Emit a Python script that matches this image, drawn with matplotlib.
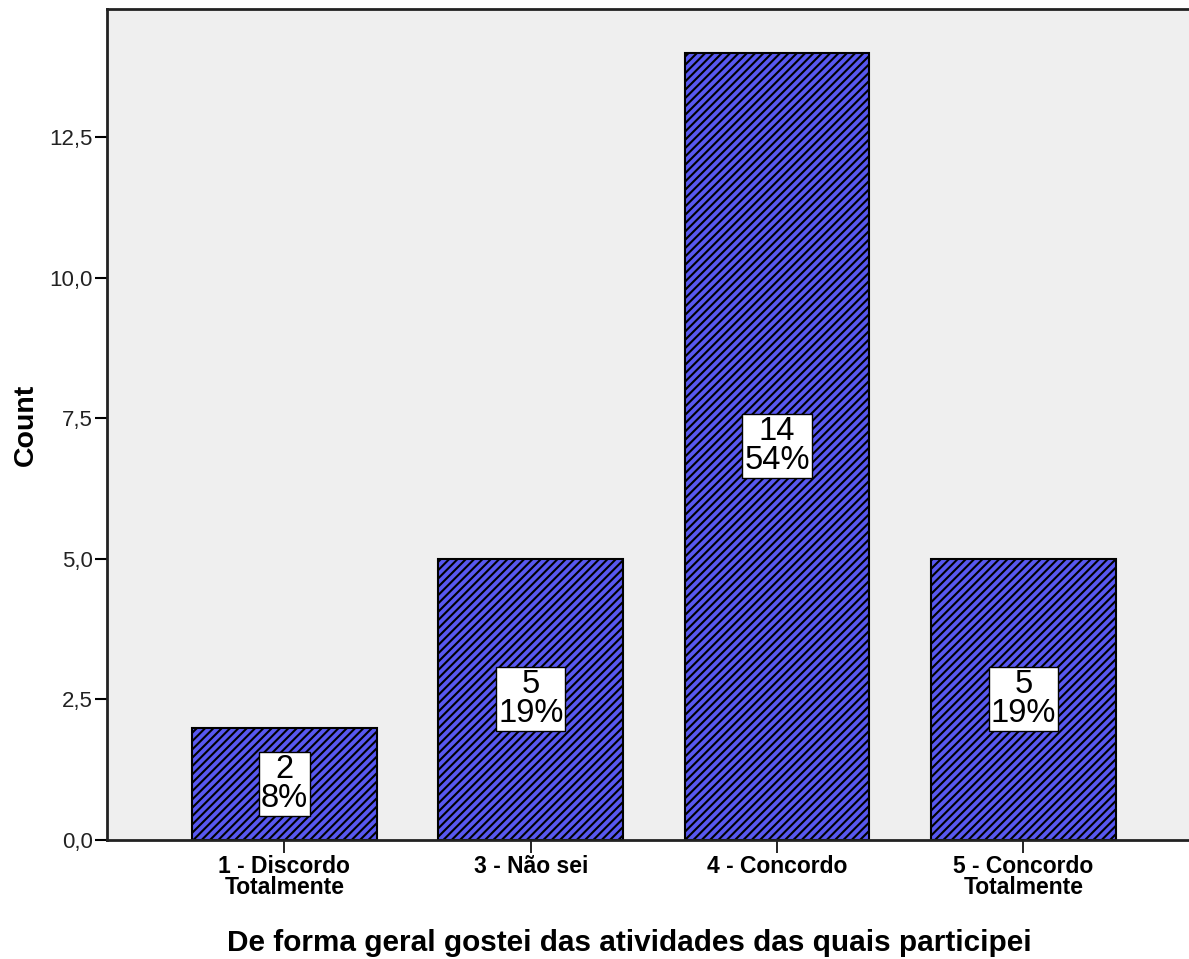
import matplotlib
matplotlib.use('Agg')
import matplotlib.pyplot as plt
from matplotlib.ticker import FuncFormatter

categories = ['1 - Discordo\nTotalmente', '3 - Não sei', '4 - Concordo', '5 - Concordo\nTotalmente']
counts = [2, 5, 14, 5]
percents = [8, 19, 54, 19]
yticks = [0, 2.5, 5.0, 7.5, 10.0, 12.5]

plt.rcParams['font.family'] = ['Liberation Sans', 'DejaVu Sans']
plt.rcParams['hatch.linewidth'] = 1.5

fig = plt.figure(figsize=(11.89, 9.59), dpi=100)
ax = fig.add_axes([0.090, 0.1241, 0.910, 0.8665])
ax.set_facecolor('#efefef')

x = list(range(len(categories)))
ax.bar(x, counts, width=0.75, color='#5858f0', edgecolor='black',
       linewidth=1.5, hatch='////', zorder=2)

for xi, c, p in zip(x, counts, percents):
    ax.text(xi, c / 2, '%d\n%d%%' % (c, p), ha='center', va='center',
            fontsize=23.5, linespacing=0.92, zorder=3,
            bbox=dict(boxstyle='square,pad=0.06', facecolor='white',
                      edgecolor='black', linewidth=1.0))

ax.set_xlim(-0.72, 3.672)
ax.set_ylim(0, 14.78)
ax.set_xticks(x)
ax.set_xticklabels(categories, fontweight='bold', fontsize=16.5, linespacing=0.85)
ax.set_yticks(yticks)
ax.yaxis.set_major_formatter(FuncFormatter(lambda v, pos: ('%.1f' % v).replace('.', ',')))
ax.tick_params(axis='y', labelsize=16, length=9, width=1.5, pad=1, labelcolor='#222222')
ax.tick_params(axis='x', length=9, width=1.2, pad=2)

for side in ['left', 'bottom', 'top']:
    ax.spines[side].set_linewidth(2)
    ax.spines[side].set_color('#222222')
ax.spines['right'].set_visible(False)

ax.set_xlabel('De forma geral gostei das atividades das quais participei',
              fontweight='bold', fontsize=21.4, labelpad=22)
ax.xaxis.label.set_x(0.4824)
ax.set_ylabel('Count', fontweight='bold', fontsize=20.5, labelpad=8)

fig.savefig('out.png', dpi=100)
